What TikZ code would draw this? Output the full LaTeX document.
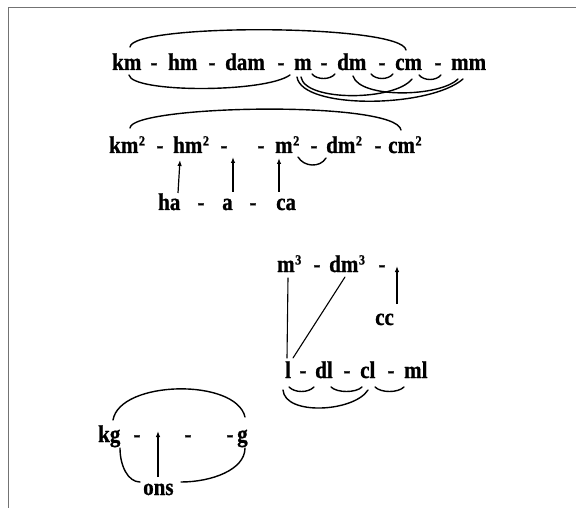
\documentclass[tikz,border=0pt]{standalone}
\usepackage{fontspec}
\setmainfont{Liberation Serif}
\newfontfamily\wf{Liberation Serif}[FakeStretch=0.875,FakeBold=1]
\usetikzlibrary{arrows.meta}
\newcommand\sps[1]{\kern0.5pt\raisebox{7.5pt}{\fontsize{14}{14}\selectfont #1}}
\begin{document}
\begin{tikzpicture}[x=1pt,y=-1pt,
 w/.style={font=\fontsize{24}{28}\wf\bfseries, inner sep=0pt, anchor=base west},
 hy/.style={font=\fontsize{24}{28}\wf\bfseries, inner sep=0pt, anchor=base},
 arc/.style={line width=1.4pt, line cap=round},
 seg/.style={line width=1.1pt, line cap=round},
 arr/.style={line width=1.2pt, -{Latex[length=6pt,width=4.5pt]}},
 frame/.style={line width=0.9pt, draw=black!55}]
\useasboundingbox (0,0) rectangle (576,508);
% frame
\coordinate (fTR) at (576,7);
\coordinate (fTL) at (8,7);
\coordinate (fBL) at (8,508);
\draw[frame] (fTR) -- (fTL) -- (fBL);
% row 1
\node[w] (km) at (112,70) {km};
\node[hy] (h11) at (154,70) {-};
\node[w] (hm) at (168,70) {hm};
\node[hy] (h12) at (212,70) {-};
\node[w] (dam) at (225,70) {dam};
\node[hy] (h13) at (281,70) {-};
\node[w] (m) at (294,70) {m};
\node[hy] (h14) at (324,70) {-};
\node[w] (dm) at (337,70) {dm};
\node[hy] (h15) at (382,70) {-};
\node[w] (cm) at (395,70) {cm};
\node[hy] (h16) at (438,70) {-};
\node[w] (mm) at (451,70) {mm};
\draw[arc] ([xshift=18pt,yshift=23pt]km.base west) .. controls +(2,-24) and +(-4,-26) .. ([xshift=11pt,yshift=20pt]cm.base west);
\draw[arc] ([xshift=17pt,yshift=-5pt]km.base west) .. controls +(3,18) and +(-25,18) .. ([xshift=-4pt,yshift=-5pt]m.base west);
\draw[arc] ([xshift=18pt,yshift=-4pt]m.base west) .. controls +(5,6) and +(-5,6) .. ([xshift=-2pt,yshift=-4pt]dm.base west);
\draw[arc] ([xshift=34pt,yshift=-4pt]dm.base west) .. controls +(5,6) and +(-5,6) .. ([xshift=-2pt,yshift=-4pt]cm.base west);
\draw[arc] ([xshift=24pt,yshift=-5pt]cm.base west) .. controls +(5,6) and +(-5,6) .. ([xshift=-10pt,yshift=-5pt]mm.base west);
\draw[arc] ([xshift=3pt,yshift=-7pt]m.base west) .. controls +(5,33) and +(-33,29) .. ([xshift=12pt,yshift=-9pt]mm.base west);
\draw[arc] ([xshift=7pt,yshift=-7pt]m.base west) .. controls +(4,25) and +(-17,22) .. ([xshift=17pt,yshift=-9pt]cm.base west);
\draw[arc] ([xshift=16pt,yshift=-6pt]dm.base west) .. controls +(7,23) and +(-18,18) .. ([xshift=7pt,yshift=-9pt]mm.base west);
% row 2
\node[w] (km2) at (109,153) {km\sps{2}};
\node[hy] (h21) at (160,153) {-};
\node[w] (hm2) at (173,153) {hm\sps{2}};
\node[hy] (h22) at (224,153) {-};
\coordinate (gap2) at (233,157);
\node[hy] (h23) at (261,153) {-};
\node[w] (m2) at (275,153) {m\sps{2}};
\node[hy] (h24) at (314,153) {-};
\node[w] (dm2) at (326,153) {dm\sps{2}};
\node[hy] (h25) at (378,153) {-};
\node[w] (cm2) at (388,153) {cm\sps{2}};
\draw[arc] ([xshift=21pt,yshift=25pt]km2.base west) .. controls +(1,-23) and +(-5,-30) .. ([xshift=13pt,yshift=23pt]cm2.base west);
\draw[arc] ([xshift=23pt,yshift=-4pt]m2.base west) .. controls +(6,10) and +(-6,10) .. ([xshift=0pt,yshift=-5pt]dm2.base west);
% row 3
\node[w] (ha) at (158,210) {ha};
\node[hy] (h31) at (201,210) {-};
\node[w] (a) at (222,210) {a};
\node[hy] (h32) at (253,210) {-};
\node[w] (ca) at (276,210) {ca};
\draw[arr] ([xshift=20pt,yshift=17pt]ha.base west) -- ([xshift=7pt,yshift=-7pt]hm2.base west);
\draw[arr] ([xshift=11pt,yshift=18pt]a.base west) -- (gap2);
\draw[arr] ([xshift=3pt,yshift=18pt]ca.base west) -- ([xshift=4pt,yshift=-5pt]m2.base west);
% row 4
\node[w] (m3) at (277,272) {m\sps{3}};
\node[hy] (h41) at (317,272) {-};
\node[w] (dm3) at (329,272) {dm\sps{3}};
\node[hy] (h42) at (382,272) {-};
\coordinate (gap4) at (397,266);
\node[w] (cc) at (375,325) {cc};
\draw[arr] ([xshift=22pt,yshift=21pt]cc.base west) -- (gap4);
% row 5
\node[w] (l) at (285,378) {l};
\node[hy] (h51) at (303,378) {-};
\node[w] (dl) at (315,378) {dl};
\node[hy] (h52) at (347,378) {-};
\node[w] (cl) at (360,378) {cl};
\node[hy] (h53) at (391,378) {-};
\node[w] (ml) at (404,378) {ml};
\draw[seg] ([xshift=11pt,yshift=-6pt]m3.base west) -- ([xshift=2pt,yshift=20pt]l.base west);
\draw[seg] ([xshift=16pt,yshift=-5pt]dm3.base west) -- ([xshift=8pt,yshift=20pt]l.base west);
\draw[arc] ([xshift=4pt,yshift=-9pt]l.base west) .. controls +(6,6) and +(-6,6) .. ([xshift=-1pt,yshift=-9pt]dl.base west);
\draw[arc] ([xshift=16pt,yshift=-9pt]dl.base west) .. controls +(6,6) and +(-6,6) .. ([xshift=2pt,yshift=-9pt]cl.base west);
\draw[arc] ([xshift=15pt,yshift=-9pt]cl.base west) .. controls +(6,6) and +(-6,6) .. ([xshift=0pt,yshift=-9pt]ml.base west);
\draw[arc] ([xshift=-2pt,yshift=-12pt]l.base west) .. controls +(2,26) and +(-14,22) .. ([xshift=8pt,yshift=-12pt]cl.base west);
% row 6
\node[w] (kg) at (98,442) {kg};
\node[hy] (h61) at (137,442) {-};
\coordinate (gap6) at (158,431);
\node[hy] (h62) at (188,442) {-};
\node[hy] (h63) at (230,442) {-};
\node[w] (g) at (237,442) {g};
\node[w] (ons) at (143,495) {ons};
\draw[arc] ([xshift=15pt,yshift=22pt]kg.base west) .. controls +(7,-40) and +(-9,-39) .. ([xshift=8pt,yshift=25pt]g.base west);
\draw[arc] ([xshift=22pt,yshift=-6pt]kg.base west) .. controls +(0,18) and +(-12,0) .. ([xshift=-3pt,yshift=13pt]ons.base west);
\draw[arc] ([xshift=38pt,yshift=13pt]ons.base west) .. controls +(30,0) and +(0,22) .. ([xshift=8pt,yshift=-6pt]g.base west);
\draw[arr] ([xshift=15pt,yshift=18pt]ons.base west) -- (gap6);
\end{tikzpicture}
\end{document}
